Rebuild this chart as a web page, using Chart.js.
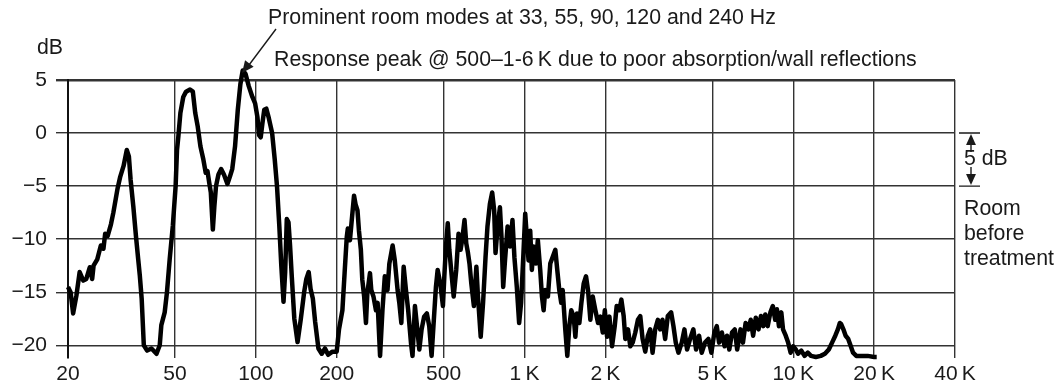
<!DOCTYPE html>
<html>
<head>
<meta charset="utf-8">
<script src="https://cdn.jsdelivr.net/npm/chart.js@4/dist/chart.umd.min.js"></script>
<style>
  html,body{margin:0;padding:0;background:#fff;}
  #wrap{width:1064px;height:386px;position:relative;}
</style>
</head>
<body>
<div id="wrap"><canvas id="chartRoom"></canvas></div>
<script>
/* ==========================================
   DATA
========================================== */
const xTicks = [20,50,100,200,500,1000,2000,5000,10000,20000,40000];
const xTickLabels = ["20","50","100","200","500","1\u2009K","2\u2009K","5\u2009K","10\u2009K","20\u2009K","40\u2009K"];
const yTicks = [-20,-15,-10,-5,0,5];
const yTickLabels = ["\u221220","\u221215","\u221210","\u22125","0","5"];

const freqHz = [
  20,20.45,20.9,21.5,22.1,22.8,23.4,24.1,24.6,24.9,25.7,26.5,27.1,27.5,28.1,28.9,29.5,30.6,31.3,32.2,
  33.1,33.7,34.2,35.0,35.8,36.5,37.0,37.6,38.3,39.4,40.9,42.7,43.9,44.5,45.8,46.7,47.8,49.1,50.3,50.9,
  51.5,52.4,53.7,55.0,56.9,58.3,59.5,60.8,62.2,63.8,65.1,66.1,67.1,68.0,69.2,70.1,71.1,72.6,74.3,76.1,
  78.4,80.1,81.7,83.7,85.7,87.6,89.4,91.5,94.2,97.1,99.4,101.4,102.8,104.3,105.8,107.5,109.4,111.8,115.0,117.6,
  119.9,122.3,124.4,126.8,128.6,130.4,132.3,134.1,136.0,139.1,143.0,147.1,151.3,154.2,157.3,159.9,163.0,166.3,171.0,175.9,
  180.9,185.9,192.8,200,204,210,214,218,220,224,227,232,235,239,242,246,249,253,257,260,
  266,269,274,280,284,290,296,302,309,314,323,329,337,342,348,355,362,369,378,383,
  391,398,406,414,423,433,442,451,459,468,475,486,497,503,510,518,525,536,545,557,
  568,578,586,598,607,616,624,634,648,662,671,687,701,716,728,743,758,771,780,794,
  810,821,833,846,865,883,902,917,936,955,971,991,1006,1020,1035,1050,1065,1080,1102,1121,
  1144,1161,1178,1194,1222,1247,1272,1302,1324,1347,1370,1387,1418,1443,1468,1493,1524,1546,1568,1600,
  1628,1660,1694,1723,1758,1794,1835,1878,1916,1955,1990,2029,2070,2117,2166,2203,2254,2293,2339,2372,
  2427,2476,2526,2584,2643,2696,2750,2814,2878,2936,2996,3064,3135,3198,3262,3337,3414,3513,3583,3655,
  3740,3847,3936,4026,4132,4250,4350,4462,4564,4696,4832,4960,5088,5193,5299,5425,5555,5667,5783,5919,
  6060,6186,6367,6499,6650,6808,6950,7092,7257,7428,7582,7738,7873,8036,8223,8394,8568,8695,8849,9030,
  9163,9379,9574,9780,10000,10224,10425,10718,11019,11329,11647,12142,12657,13121,13566,13950,14340,14660,14910,15080,
  15370,15670,16020,16380,16700,17170,17910,18920,20000,20450
];

const levelDb = [
  -14.5,-15.0,-17.0,-15.3,-13.1,-13.9,-13.75,-12.65,-13.75,-12.5,-11.9,-10.6,-10.9,-9.5,-9.7,-8.6,-7.5,-5.2,-4.1,-3.1,
  -1.6,-2.2,-4.4,-6.9,-9.7,-11.9,-13.4,-15.6,-20.0,-20.5,-20.3,-20.8,-20.0,-18.1,-16.9,-15.0,-11.9,-8.75,-5.0,-1.6,
  -0.3,1.9,3.4,3.9,4.1,3.9,1.9,0.6,-1.25,-2.5,-3.75,-3.6,-4.7,-5.6,-9.1,-6.9,-5.0,-3.9,-3.4,-3.9,
  -4.8,-4.1,-3.4,-1.25,2.2,4.6,5.9,5.6,4.4,3.4,2.8,1.5,-0.2,-0.4,0.9,2.2,2.3,1.4,0.0,-2.5,
  -5.0,-8.75,-12.5,-15.9,-13.1,-8.1,-8.4,-10.6,-13.4,-17.5,-19.7,-17.5,-15.0,-13.75,-13.1,-14.7,-15.6,-17.8,-20.3,-20.8,
  -20.3,-20.9,-20.6,-20.6,-18.5,-16.7,-13.2,-9.8,-9.0,-10.1,-8.5,-5.9,-6.7,-7.3,-9.2,-11.0,-13.8,-15.4,-17.9,-15.1,
  -13.2,-14.8,-15.4,-16.7,-16.0,-21.0,-16.7,-13.5,-14.8,-12.3,-10.6,-12.0,-14.8,-16.0,-17.9,-12.6,-14.8,-16.7,-19.8,-21.0,
  -16.3,-18.2,-20.4,-18.5,-17.3,-17.0,-18.2,-21.0,-17.9,-14.5,-12.9,-14.2,-16.3,-13.5,-10.7,-8.5,-11.0,-13.5,-15.4,-12.9,
  -9.5,-11.0,-10.1,-8.2,-10.4,-11.3,-12.3,-14.2,-16.3,-12.6,-15.4,-19.2,-16.0,-11.7,-8.8,-6.7,-5.6,-7.3,-11.3,-8.8,
  -7.0,-9.8,-14.5,-12.0,-8.8,-10.7,-8.2,-11.7,-14.5,-17.9,-16.0,-11.3,-7.6,-9.8,-12.0,-9.2,-12.9,-10.7,-12.3,-10.1,
  -12.9,-15.4,-16.7,-14.8,-15.4,-12.3,-11.7,-11.0,-12.9,-14.8,-16.0,-14.8,-18.5,-21.0,-18.2,-16.7,-17.3,-19.2,-17.0,-17.9,
  -16.0,-14.2,-13.5,-14.8,-17.6,-15.4,-16.7,-17.9,-17.3,-18.8,-16.7,-19.2,-17.3,-20.1,-18.2,-16.3,-16.7,-15.7,-17.25,-19.4,
  -18.5,-20.1,-19.75,-18.8,-17.6,-17.25,-19.4,-20.6,-19.1,-18.5,-20.7,-18.5,-17.6,-18.5,-17.6,-19.4,-17.25,-16.9,-18.2,-19.75,
  -20.7,-19.75,-18.5,-20.4,-19.4,-18.5,-20.4,-19.1,-20.7,-19.75,-19.4,-20.7,-18.8,-18.2,-19.75,-18.8,-20.1,-19.1,-20.4,-18.8,
  -18.5,-20.4,-18.5,-19.75,-17.9,-18.5,-17.6,-19.1,-17.4,-18.5,-17.25,-18.2,-17.1,-18.2,-16.9,-16.3,-17.6,-16.6,-18.2,-16.9,
  -18.5,-19.1,-19.75,-20.7,-20.1,-20.4,-20.8,-20.5,-21.0,-20.7,-21.0,-21.1,-21.0,-20.8,-20.4,-19.75,-19.1,-18.5,-17.9,-18.0,
  -18.5,-19.1,-19.4,-20.1,-20.7,-21.0,-21.0,-21.0,-21.1,-21.1
];

const titleTop = "Prominent room modes at 33, 55, 90, 120 and 240 Hz";
const titleSecond = "Response peak @ 500\u20131-6\u2009K due to poor absorption/wall reflections";
const sideLabel = ["Room","before","treatment"];

/* ==========================================
   ANNOTATIONS
========================================== */
function drawArrowHead(ctx, x, y, angle, size){

  ctx.save();
  ctx.translate(x,y);
  ctx.rotate(angle);
  ctx.beginPath();
  ctx.moveTo(0,0);
  ctx.lineTo(-size, -size*0.45);
  ctx.lineTo(-size, size*0.45);
  ctx.closePath();
  ctx.fill();
  ctx.restore();

}

const notesPlugin = {
  id:"notes",
  afterDraw(chart){

    const ctx = chart.ctx;
    const yS = chart.scales.y;
    const area = chart.chartArea;

    ctx.save();
    ctx.fillStyle = "#1a1a1a";
    ctx.strokeStyle = "#1a1a1a";
    ctx.font = "21.3px 'Liberation Sans', Arial, sans-serif";
    ctx.textBaseline = "middle";
    ctx.textAlign = "left";

    ctx.fillText("dB", 37, 48);
    ctx.fillText(titleTop, 268, 18);
    ctx.fillText(titleSecond, 274, 60);

    // arrow to the 90 Hz peak
    ctx.lineWidth = 1.4;
    ctx.beginPath();
    ctx.moveTo(276, 29);
    ctx.lineTo(249, 65);
    ctx.stroke();
    drawArrowHead(ctx, 242, 73, Math.atan2(73-29, 242-276), 12);

    // 5 dB scale bar
    const y0 = yS.getPixelForValue(0);
    const y5 = yS.getPixelForValue(-5);
    const bx = 971;
    ctx.lineWidth = 1.4;
    ctx.beginPath();
    ctx.moveTo(area.right+4, y0); ctx.lineTo(area.right+25, y0);
    ctx.moveTo(area.right+4, y5); ctx.lineTo(area.right+25, y5);
    ctx.moveTo(bx, y0+10); ctx.lineTo(bx, y0+19);
    ctx.moveTo(bx, y5-10); ctx.lineTo(bx, y5-19);
    ctx.stroke();
    drawArrowHead(ctx, bx, y0+1, -Math.PI/2, 11);
    drawArrowHead(ctx, bx, y5-1, Math.PI/2, 11);
    ctx.fillText("5 dB", 964, (y0+y5)/2);

    sideLabel.forEach((t,i)=>{
      ctx.fillText(t, 964, 209 + i*25);
    });

    ctx.restore();

  }
};

/* ==========================================
   ROOM RESPONSE CHART
========================================== */
function renderRoomChart(){

  Chart.defaults.font.family = "'Liberation Sans', Arial, sans-serif";
  Chart.defaults.font.size = 21;
  Chart.defaults.color = "#1a1a1a";

  const points = freqHz.map((f,i)=>({
    x:f,
    y:levelDb[i]
  }));

  new Chart(
    document.getElementById("chartRoom"),
    {
      type:"line",
      data:{
        datasets:[
          {
            data:points,
            borderColor:"#000",
            borderWidth:4.5,
            pointRadius:0,
            tension:0,
            clip:false,
            borderJoinStyle:"round"
          }
        ]
      },
      options:{
        responsive:false,
        animation:false,
        events:[],
        layout:{
          padding:{left:0, right:109, top:80, bottom:0}
        },
        plugins:{
          legend:{display:false},
          tooltip:{enabled:false}
        },
        scales:{
          x:{
            type:"logarithmic",
            min:20,
            max:40000,
            afterBuildTicks(scale){
              scale.ticks = xTicks.map(v=>({value:v}));
            },
            afterFit(scale){
              scale.height = 28;
            },
            ticks:{
              autoSkip:false,
              maxRotation:0,
              padding:4,
              callback:(v,i)=>xTickLabels[i]
            },
            grid:{
              color:"#333",
              lineWidth:1.4,
              drawTicks:false
            },
            border:{display:false}
          },
          y:{
            min:-21.2,
            max:5,
            afterBuildTicks(scale){
              scale.ticks = yTicks.map(v=>({value:v}));
            },
            afterFit(scale){
              scale.width = 68;
            },
            ticks:{
              padding:9,
              callback:(v,i)=>yTickLabels[i]
            },
            grid:{
              color:"#333",
              lineWidth:ctx=>ctx.tick && ctx.tick.value===5 ? 2.4 : 1.4,
              tickLength:12
            },
            border:{display:true, color:"#111", width:2}
          }
        }
      },
      plugins:[notesPlugin]
    }
  );

}

const cv = document.getElementById("chartRoom");
cv.width = 1064;
cv.height = 386;
renderRoomChart();
</script>
</body>
</html>
